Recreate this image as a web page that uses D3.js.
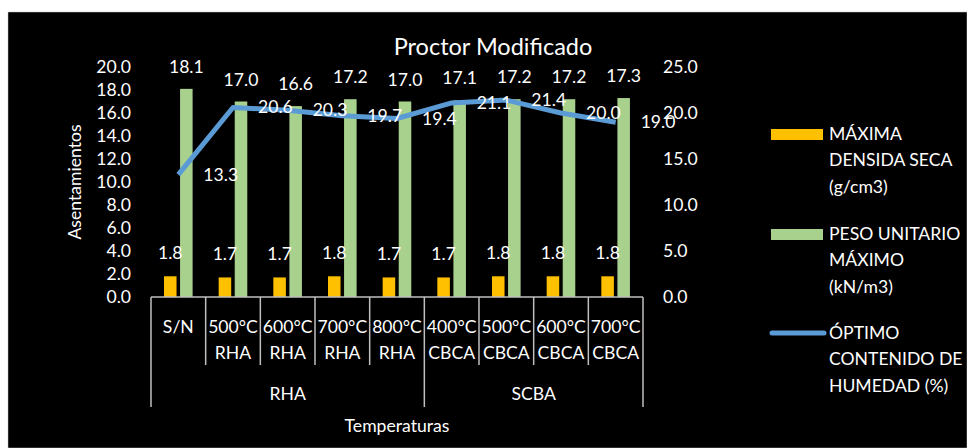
<!DOCTYPE html>
<html>
<head>
<meta charset="utf-8">
<script src="https://cdn.jsdelivr.net/npm/d3@7"></script>
<style>
  html, body { margin: 0; padding: 0; background: #fff; }
  svg { display: block; }
  text { font-family: Lato, "Open Sans", sans-serif; fill: #fff; }
</style>
</head>
<body>
<svg width="967" height="448"></svg>
<script>
// chart values
const categories = ["S/N", "500°C\nRHA", "600°C\nRHA", "700°C\nRHA", "800°C\nRHA",
	"400°C\nCBCA", "500°C\nCBCA", "600°C\nCBCA", "700°C\nCBCA"];
const groupNames = ["RHA", "SCBA"];
const groupSizes = [5, 4];
const densidad = [1.8, 1.7, 1.7, 1.8, 1.7, 1.7, 1.8, 1.8, 1.8];
const pesoUnitario = [18.1, 17.0, 16.6, 17.2, 17.0, 17.1, 17.2, 17.2, 17.3];
const humedad = [13.3, 20.6, 20.3, 19.7, 19.4, 21.1, 21.4, 20.0, 19.0];
const leftTicks = [0, 2, 4, 6, 8, 10, 12, 14, 16, 18, 20];
const rightTicks = [0, 5, 10, 15, 20, 25];
const legendItems = [
	{ lines: ["MÁXIMA", "DENSIDA SECA", "(g/cm3)"], color: "#FFC000", type: "bar" },
	{ lines: ["PESO UNITARIO", "MÁXIMO", "(kN/m3)"], color: "#A9D18E", type: "bar" },
	{ lines: ["ÓPTIMO", "CONTENIDO DE", "HUMEDAD (%)"], color: "#5B9BD5", type: "line" }
];

let svg = d3.select("svg");
const fs = 17.6;

// background
svg.append("rect")
	.attr("x", 8).attr("y", 12)
	.attr("width", 959).attr("height", 436)
	.attr("fill", "#000")
	.attr("stroke", "#bfbfbf").attr("stroke-width", 0.5);

const plotL = 151, plotR = 643, plotT = 67, plotB = 297;

let x = d3.scaleBand().domain(d3.range(categories.length)).range([plotL, plotR]);
let sub = d3.scaleBand().domain(["d", "p"]).range([13, 41.6]).paddingInner(0.22);
let yL = d3.scaleLinear().domain([0, 20]).range([plotB, plotT]);
let yR = d3.scaleLinear().domain([0, 25]).range([plotB, plotT]);

// left axis
let gL = svg.append("g").attr("transform", `translate(${plotL},0)`)
	.call(d3.axisLeft(yL).tickValues(leftTicks).tickFormat(d3.format(".1f")).tickSize(0).tickPadding(20));
gL.select(".domain").remove();
gL.selectAll("text").attr("font-size", fs).attr("fill", "#fff").attr("font-family", "Lato");

// right axis
let gR = svg.append("g").attr("transform", `translate(${plotR},0)`)
	.call(d3.axisRight(yR).tickValues(rightTicks).tickFormat(d3.format(".1f")).tickSize(0).tickPadding(20));
gR.select(".domain").remove();
gR.selectAll("text").attr("font-size", fs).attr("fill", "#fff").attr("font-family", "Lato");

// bars
let bars = svg.append("g");
bars.selectAll(".dens").data(densidad).enter().append("rect")
	.attr("x", (d, i) => x(i) + sub("d"))
	.attr("width", sub.bandwidth())
	.attr("y", d => yL(d))
	.attr("height", d => plotB - yL(d))
	.attr("fill", "#FFC000");
bars.selectAll(".peso").data(pesoUnitario).enter().append("rect")
	.attr("x", (d, i) => x(i) + sub("p"))
	.attr("width", sub.bandwidth())
	.attr("y", d => yL(d))
	.attr("height", d => plotB - yL(d))
	.attr("fill", "#A9D18E");

// x axis with grouped categories
let axisCol = "#bfbfbf";
svg.append("line")
	.attr("x1", plotL).attr("x2", plotR)
	.attr("y1", plotB).attr("y2", plotB)
	.attr("stroke", axisCol).attr("stroke-width", 1.5);

let groupEdges = [0];
groupSizes.forEach(n => groupEdges.push(groupEdges[groupEdges.length - 1] + n));
d3.range(categories.length + 1).forEach(i => {
	let xx = i < categories.length ? x(i) : plotR;
	let long = groupEdges.includes(i);
	svg.append("line")
		.attr("x1", xx).attr("x2", xx)
		.attr("y1", plotB).attr("y2", long ? 407 : 365)
		.attr("stroke", axisCol).attr("stroke-width", 1.5);
});

categories.forEach((c, i) => {
	let t = svg.append("text")
		.attr("x", x(i) + x.bandwidth() / 2)
		.attr("text-anchor", "middle")
		.attr("font-size", fs);
	c.split("\n").forEach((ln, k) => {
		t.append("tspan").attr("x", x(i) + x.bandwidth() / 2)
			.attr("y", 333 + k * 25.5).text(ln);
	});
});

groupNames.forEach((g, k) => {
	let a = groupEdges[k], b = groupEdges[k + 1];
	let x0 = x(a), x1 = b < categories.length ? x(b) : plotR;
	svg.append("text")
		.attr("x", (x0 + x1) / 2).attr("y", 400)
		.attr("text-anchor", "middle")
		.attr("font-size", fs).text(g);
});

// line series
let line = d3.line()
	.x((d, i) => x(i) + x.bandwidth() / 2)
	.y(d => yR(d));
svg.append("path")
	.datum(humedad)
	.attr("d", line)
	.attr("fill", "none")
	.attr("stroke", "#5B9BD5")
	.attr("stroke-width", 5)
	.attr("stroke-linejoin", "round");

// data labels
let fmt = d3.format(".1f");
svg.append("g").selectAll("text").data(densidad).enter().append("text")
	.attr("x", (d, i) => x(i) + sub("d") + sub.bandwidth() / 2)
	.attr("y", d => yL(d) - 17)
	.attr("text-anchor", "middle").attr("font-size", fs)
	.text(d => fmt(d));
svg.append("g").selectAll("text").data(pesoUnitario).enter().append("text")
	.attr("x", (d, i) => x(i) + sub("p") + sub.bandwidth() / 2)
	.attr("y", d => yL(d) - 16)
	.attr("text-anchor", "middle").attr("font-size", fs)
	.text(d => fmt(d));
svg.append("g").selectAll("text").data(humedad).enter().append("text")
	.attr("x", (d, i) => x(i) + x.bandwidth() / 2 + 25)
	.attr("y", d => yR(d) + 6)
	.attr("font-size", fs)
	.text(d => fmt(d));

// titles
svg.append("text")
	.attr("x", 493).attr("y", 55)
	.attr("text-anchor", "middle").attr("font-size", 23.5)
	.text("Proctor Modificado");
svg.append("text")
	.attr("transform", `translate(81,${(plotT + plotB) / 2}) rotate(-90)`)
	.attr("text-anchor", "middle").attr("font-size", fs)
	.text("Asentamientos");
svg.append("text")
	.attr("x", (plotL + plotR) / 2).attr("y", 432)
	.attr("text-anchor", "middle").attr("font-size", fs)
	.text("Temperaturas");

// legend
let legTops = [134, 234, 333];
legendItems.forEach((it, k) => {
	let g = svg.append("g").attr("transform", `translate(770,${legTops[k]})`);
	if (it.type === "bar") {
		g.append("rect").attr("x", 1).attr("y", -5).attr("width", 52).attr("height", 11).attr("fill", it.color);
	} else {
		g.append("line").attr("x1", 2).attr("x2", 54).attr("y1", 0).attr("y2", 0)
			.attr("stroke", it.color).attr("stroke-width", 5).attr("stroke-linecap", "round");
	}
	it.lines.forEach((ln, j) => {
		g.append("text").attr("x", 59).attr("y", j * 26.3 + 6)
			.attr("font-size", fs).text(ln);
	});
});
</script>
</body>
</html>
